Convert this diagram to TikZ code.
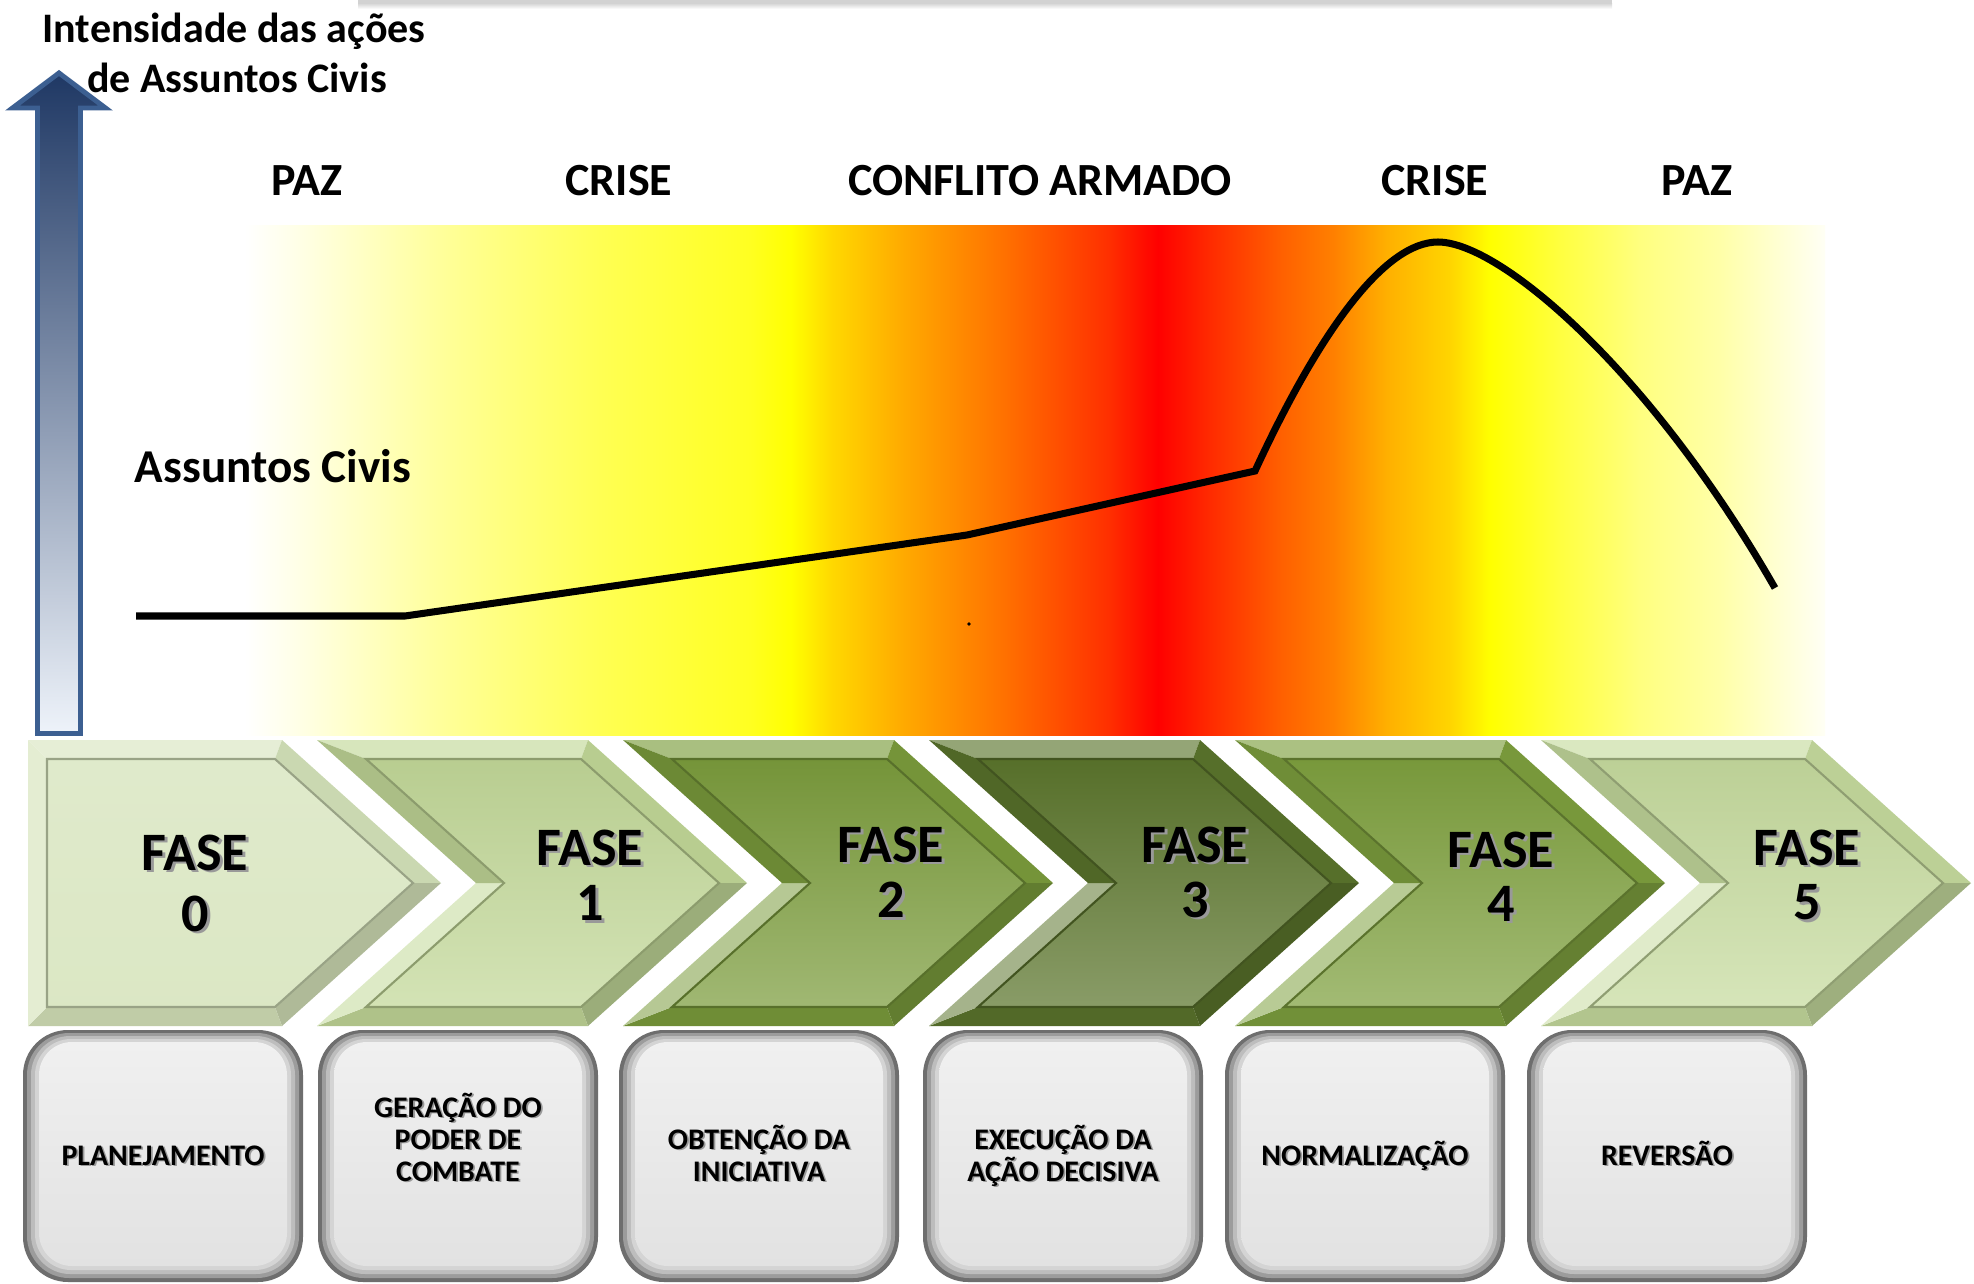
\documentclass[tikz,border=0pt]{standalone}
\usepackage{fontspec}
\setmainfont{Carlito}
\usetikzlibrary{calc}

\definecolor{chA}{HTML}{D5E3BA}
\definecolor{chB}{HTML}{C2D898}
\definecolor{chC}{HTML}{7B9C3C}
\definecolor{chD}{HTML}{5B752C}
\definecolor{chE}{HTML}{7EA03E}
\definecolor{chF}{HTML}{C6DB9E}
\definecolor{arrowtop}{HTML}{1F3864}
\definecolor{arrowmid}{HTML}{7F97B8}
\definecolor{arrowbot}{HTML}{EEF3FA}
\definecolor{arrowedge}{HTML}{3C5F91}
\definecolor{boxedge}{HTML}{6E6E6E}
\definecolor{boxbA}{HTML}{9C9C9C}
\definecolor{boxbB}{HTML}{BDBDBD}
\definecolor{boxbC}{HTML}{D4D4D4}
\definecolor{boxfaceT}{HTML}{F0F0F0}
\definecolor{boxfaceB}{HTML}{E2E2E2}

\pgfdeclarehorizontalshading{bandshade}{100bp}{rgb(0bp)=(1,1,1); rgb(25bp)=(1,1,1); rgb(26.74bp)=(1,1,0.9); rgb(31.3bp)=(1,1,0.6); rgb(36.14bp)=(1,1,0.33); rgb(40.98bp)=(1,1,0.13); rgb(42.28bp)=(1,1,0); rgb(43.58bp)=(1,0.847,0); rgb(45.82bp)=(1,0.667,0); rgb(49.05bp)=(1,0.44,0); rgb(52.28bp)=(1,0.19,0); rgb(53.89bp)=(1,0,0); rgb(55.51bp)=(1,0.165,0); rgb(57.78bp)=(1,0.376,0); rgb(59.43bp)=(1,0.5,0); rgb(61.14bp)=(1,0.69,0); rgb(63.13bp)=(1,0.835,0); rgb(64.4bp)=(1,1,0); rgb(66.61bp)=(1,1,0.25); rgb(69.15bp)=(1,1,0.5); rgb(71.68bp)=(1,1,0.66); rgb(75bp)=(1,1,0.96); rgb(100bp)=(1,1,0.96)}

\newcommand{\shtxt}[2][0.8pt]{\leavevmode\rlap{\hspace*{#1}\raisebox{-#1}{\textcolor{black!40}{#2}}}#2}

% chevron with notch, left top corner at x=#1, colour #2
\newcommand{\chevk}[2]{%
\begin{scope}[shift={(#1,0)}]
 \fill[#2!65!white] (0,740) -- (271,740) -- (264,759) -- (49,759) -- cycle;
 \fill[#2!95!black] (271,740) -- (430,883) -- (402,883) -- (264,759) -- cycle;
 \fill[#2!80!black] (430,883) -- (271,1026) -- (264,1007) -- (402,883) -- cycle;
 \fill[#2!90!black] (271,1026) -- (0,1026) -- (49,1007) -- (264,1007) -- cycle;
 \fill[#2!55!white] (0,1026) -- (159,883) -- (187,883) -- (49,1007) -- cycle;
 \fill[#2!88!black] (159,883) -- (0,740) -- (49,759) -- (187,883) -- cycle;
 \shade[top color=#2!95!black, middle color=#2, bottom color=#2!72!white] (49,759) -- (264,759) -- (402,883) -- (264,1007) -- (49,1007) -- (187,883) -- cycle;
 \draw[#2!72!black, line width=0.6pt, line join=miter] (49,759) -- (264,759) -- (402,883) -- (264,1007) -- (49,1007) -- (187,883) -- cycle;
\end{scope}}

% rounded grey box, left edge at x=#1
\newcommand{\gbox}[1]{%
\begin{scope}[shift={(#1,0)}]
 \fill[boxedge, rounded corners=4.5mm] (0,1030) rectangle (280,1282);
 \fill[boxbA, rounded corners=4.2mm] (4,1033) rectangle (276,1278);
 \fill[boxbB, rounded corners=3.9mm] (8,1036) rectangle (272,1274);
 \fill[boxbC, rounded corners=3.6mm] (12,1039) rectangle (268,1270);
 \shade[top color=boxfaceT, bottom color=boxfaceB, rounded corners=3.3mm] (16,1042) rectangle (264,1266);
\end{scope}}

\tikzset{
 fasetxt/.style={font=\fontsize{15.4pt}{16pt}\selectfont\bfseries, inner sep=0pt},
 boxtxt/.style={font=\fontsize{8.5pt}{9pt}\selectfont\bfseries, anchor=base, inner sep=0pt},
 eratxt/.style={font=\fontsize{13.1pt}{14pt}\selectfont\bfseries, inner sep=0pt},
 titletxt/.style={font=\fontsize{11.95pt}{13pt}\selectfont\bfseries, anchor=base, inner sep=0pt},
 curveline/.style={line width=2pt, black, line join=miter},
}

\begin{document}
\begin{tikzpicture}[x=0.01cm, y=-0.01cm]
\useasboundingbox (0,0) rectangle (1974,1284);
\fill[white] (0,0) rectangle (1974,1284);

% faint strip at top edge
\fill[gray!35] (358,0) rectangle (1612,3);
\shade[top color=gray!35, bottom color=white] (358,3) rectangle (1612,9);

% colour band
\shade[shading=bandshade] (245,225) rectangle (1825,735);

% vertical arrow
\shadedraw[top color=arrowtop, middle color=arrowmid, bottom color=arrowbot, draw=arrowedge, line width=1.4pt, line join=miter]
 (59,73) -- (105.5,108) -- (80.5,108) -- (80.5,733.5) -- (37.5,733.5) -- (37.5,108) -- (12.5,108) -- cycle;

% title
\node[titletxt] (t1) at (234,42) {Intensidade das ações};
\node[titletxt] (t2) at (237,92) {de Assuntos Civis};

% eras
\node[eratxt] (e1) at (307,181) {PAZ};
\node[eratxt] (e2) at (619,181) {CRISE};
\node[eratxt] (e3) at (1040,181) {CONFLITO ARMADO};
\node[eratxt] (e4) at (1435,181) {CRISE};
\node[eratxt] (e5) at (1697,181) {PAZ};

\node[font=\fontsize{13.4pt}{14pt}\selectfont\bfseries, anchor=base, inner sep=0pt] (ac) at (273,482) {Assuntos Civis};

% curve
\coordinate (p0) at (136,616);
\coordinate (p1) at (405,616);
\coordinate (p2) at (967,535);
\coordinate (p3) at (1255,471);
\coordinate (p4) at (1438,242);
\coordinate (p5) at (1775,588);
\draw[curveline] (p0) -- (p1) -- (p2) -- (p3) .. controls (1320,330) and (1385,242) .. (p4) .. controls (1500,242) and (1650,370) .. (p5);
\fill (969,624) circle (1.8);

% chevron 0 (pentagon)
\fill[chA!60!white] (28,740) -- (282,740) -- (275,759) -- (47,759) -- cycle;
\fill[chA!95!black] (282,740) -- (441,883) -- (413,883) -- (275,759) -- cycle;
\fill[chA!82!black] (441,883) -- (282,1026) -- (275,1007) -- (413,883) -- cycle;
\fill[chA!90!black] (282,1026) -- (28,1026) -- (47,1007) -- (275,1007) -- cycle;
\fill[chA!65!white] (28,1026) -- (28,740) -- (47,759) -- (47,1007) -- cycle;
\shade[top color=chA!75!white, bottom color=chA!85!white] (47,759) -- (275,759) -- (413,883) -- (275,1007) -- (47,1007) -- cycle;
\draw[chA!72!black, line width=0.6pt, line join=miter] (47,759) -- (275,759) -- (413,883) -- (275,1007) -- (47,1007) -- cycle;

\chevk{317}{chB}
\chevk{623}{chC}
\chevk{929}{chD}
\chevk{1235}{chE}
\chevk{1541}{chF}

% phase labels
\node[fasetxt] (f0) at (195,854) {\shtxt{FASE}};
\node[fasetxt] (n0) at (195,915) {\shtxt{0}};
\node[fasetxt] (f1) at (590,849) {\shtxt{FASE}};
\node[fasetxt] (n1) at (590,904) {\shtxt{1}};
\node[fasetxt] (f2) at (891,846) {\shtxt{FASE}};
\node[fasetxt] (n2) at (891,901) {\shtxt{2}};
\node[fasetxt] (f3) at (1195,846) {\shtxt{FASE}};
\node[fasetxt] (n3) at (1195,901) {\shtxt{3}};
\node[fasetxt] (f4) at (1501,851) {\shtxt{FASE}};
\node[fasetxt] (n4) at (1501,905) {\shtxt{4}};
\node[fasetxt] (f5) at (1807,849) {\shtxt{FASE}};
\node[fasetxt] (n5) at (1807,904) {\shtxt{5}};

% grey boxes
\gbox{23}
\gbox{318}
\gbox{619}
\gbox{923}
\gbox{1225}
\gbox{1527}

\node[boxtxt] (b0) at (163,1165) {\shtxt[0.5pt]{PLANEJAMENTO}};
\node[boxtxt] (b1a) at (458,1117) {\shtxt[0.5pt]{GERAÇÃO DO}};
\node[boxtxt] (b1b) at (458,1149) {\shtxt[0.5pt]{PODER DE}};
\node[boxtxt] (b1c) at (458,1181) {\shtxt[0.5pt]{COMBATE}};
\node[boxtxt] (b2a) at (759,1149) {\shtxt[0.5pt]{OBTENÇÃO DA}};
\node[boxtxt] (b2b) at (759,1181) {\shtxt[0.5pt]{INICIATIVA}};
\node[boxtxt] (b3a) at (1063,1149) {\shtxt[0.5pt]{EXECUÇÃO DA}};
\node[boxtxt] (b3b) at (1063,1181) {\shtxt[0.5pt]{AÇÃO DECISIVA}};
\node[boxtxt] (b4) at (1365,1165) {\shtxt[0.5pt]{NORMALIZAÇÃO}};
\node[boxtxt] (b5) at (1667,1165) {\shtxt[0.5pt]{REVERSÃO}};
\end{tikzpicture}
\end{document}
